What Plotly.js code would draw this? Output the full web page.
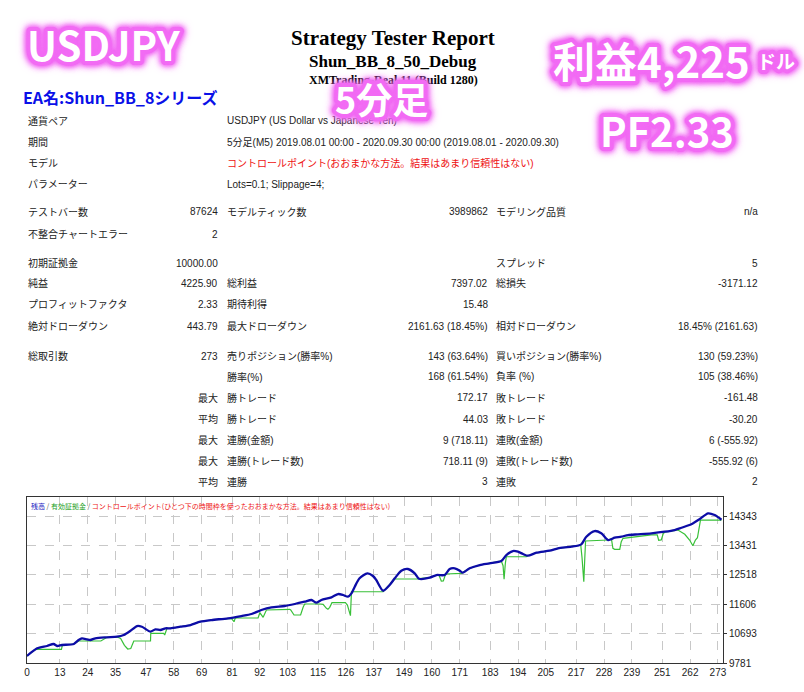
<!DOCTYPE html>
<html>
<head>
<meta charset="utf-8">
<script src="https://cdn.plot.ly/plotly-3.0.1.min.js"></script>
<style>
html,body{margin:0;padding:0;background:#fff;}
#chart{width:804px;height:692px;}
</style>
</head>
<body>
<div id="chart"></div>
<script>
// ---------------- DATA ----------------
const balanceX = [0,4.0,7.9,10.5,11.9,13.8,18.5,20.4,21.7,23.7,25.0,27.0,31.6,35.6,38.2,40.9,43.5,45.4,48.8,50.7,52.7,54.7,56.7,60.6,64.6,68.5,72.9,79.4,84.7,88.7,92.6,96.6,101.8,105.8,109.7,112.4,114.3,116.3,120.3,122.9,124.9,126.8,128.2,129.5,131.4,134.5,136.7,138.0,140.7,143.3,145.3,147.9,150.5,153.2,154.9,159.1,161.8,165.0,167.0,169.0,171.0,172.0,174.9,178.9,182.8,187.4,189.4,192.0,194.0,196.0,197.9,201.3,206.5,209.8,215.1,219.0,221.0,224.3,226.9,229.6,232.2,234.8,237.5,241.4,246.7,252.0,255.9,258.6,262.5,265.8,269.1,271.7,274.4];
const balanceY = [10000,10237,10309,10371,10309,10340,10371,10495,10547,10516,10495,10547,10578,10597,10650,10783,10929,10907,10752,10827,10805,10858,10858,10907,10960,11063,11115,11168,11239,11301,11426,11509,11550,11612,11683,11736,11652,11736,11820,11922,11891,11838,11944,12149,12409,12564,12481,12356,12024,12201,12409,12645,12698,12564,12397,12428,12512,12512,12698,12720,12645,12583,12720,12822,12875,12946,13132,13256,13235,13163,13111,13204,13266,13340,13390,13464,13700,13877,13806,13598,13669,13700,13753,13775,13806,13855,13908,13979,14085,14249,14426,14373,14226];

const equityX = [0,3.3,13.6,14.0,18.5,20.4,29.2,31.6,35.6,37.0,38.5,39.8,41.0,42.2,48.8,48.9,54.0,54.4,55.3,56.7,60.6,64.6,68.5,72.9,79.4,80.8,81.8,82.3,91.3,92.0,93.3,94.6,103.8,104.2,105.5,108.1,109.1,109.7,116.0,117.0,118.3,118.9,119.6,120.5,125.8,126.6,127.8,128.2,140.7,143.3,145.3,154.5,154.9,159.1,161.8,162.8,163.7,164.5,165.4,171.6,172.0,174.9,178.9,182.8,187.4,188.1,188.5,189.0,189.4,197.3,197.9,201.3,206.5,209.8,215.1,218.8,219.3,220.0,220.4,220.7,229.6,230.9,231.5,232.2,234.2,234.8,235.5,241.4,246.7,249.0,249.6,250.6,251.4,252.0,255.9,257.2,259.9,261.8,263.1,264.1,264.9,265.4,266.1,274.4];
const equityY = [10000,10206,10206,10340,10371,10464,10464,10578,10590,10540,10330,10215,10230,10464,10464,10703,10703,10650,10858,10858,10907,10960,11063,11115,11160,11156,11063,11177,11177,11342,11199,11426,11447,11430,11270,11270,11509,11612,11612,11600,11478,11447,11509,11652,11652,11581,11249,11993,11993,12201,12388,12388,12397,12428,12512,12500,12325,12330,12543,12564,12583,12720,12822,12875,12946,12800,12378,12875,13079,13079,13111,13204,13266,13340,13390,13440,13050,12304,13050,13567,13598,13640,13340,13309,13309,13545,13650,13720,13760,13760,13590,13600,13800,13840,13900,13908,13775,13598,13421,13598,13669,13961,14218,14218];

const xTickLabels = ['0','13','24','35','47','58','69','81','92','103','115','126','137','149','160','171','183','194','205','217','228','239','251','262','273'];
const yTickLabels = ['9781','10693','11606','12518','13431','14343'];

const reportTitle = 'Strategy Tester Report';
const reportEA = 'Shun_BB_8_50_Debug';
const reportServer = 'XMTrading-Real 11 (Build 1280)';
const eaNameLabel = 'EA名:Shun_BB_8シリーズ';

const infoLabels = ['通貨ペア','期間','モデル','パラメーター'];
const infoValues = ['USDJPY (US Dollar vs Japanese Yen)',
  '5分足(M5) 2019.08.01 00:00 - 2020.09.30 00:00 (2019.08.01 - 2020.09.30)',
  'コントロールポイント(おおまかな方法。結果はあまり信頼性はない)',
  'Lots=0.1; Slippage=4;'];

const statRows = [
  ['テストバー数','87624','モデルティック数','3989862','モデリング品質','n/a'],
  ['不整合チャートエラー','2','','','',''],
  ['初期証拠金','10000.00','','','スプレッド','5'],
  ['純益','4225.90','総利益','7397.02','総損失','-3171.12'],
  ['プロフィットファクタ','2.33','期待利得','15.48','',''],
  ['絶対ドローダウン','443.79','最大ドローダウン','2161.63 (18.45%)','相対ドローダウン','18.45% (2161.63)'],
  ['総取引数','273','売りポジション(勝率%)','143 (63.64%)','買いポジション(勝率%)','130 (59.23%)'],
  ['','','勝率(%)','168 (61.54%)','負率 (%)','105 (38.46%)'],
  ['','最大','勝トレード','172.17','敗トレード','-161.48'],
  ['','平均','勝トレード','44.03','敗トレード','-30.20'],
  ['','最大','連勝(金額)','9 (718.11)','連敗(金額)','6 (-555.92)'],
  ['','最大','連勝(トレード数)','718.11 (9)','連敗(トレード数)','-555.92 (6)'],
  ['','平均','連勝','3','連敗','2']
];

const legendNames = ['残高','有効証拠金','コントロールポイント(ひとつ下の時間枠を使ったおおまかな方法。結果はあまり信頼性はない)'];
const badgeTexts = ['USDJPY','5分足','利益4,225','ドル','PF2.33'];

// ---------------- LAYOUT HELPERS ----------------
const L = 27, R = 723, T = 497, B = 663;
const px = x => (x - L) / (R - L);
const py = y => (B - y) / (B - T);
const SANS = 'Liberation Sans, Noto Sans CJK JP, sans-serif';
const SERIF = 'Liberation Serif, Times New Roman, serif';
const annotations = [];
function txt(text, x, y, anchor, font) {
  annotations.push({text: text, x: px(x), y: py(y), xref: 'paper', yref: 'paper',
    xanchor: anchor, yanchor: 'middle', showarrow: false, align: anchor === 'right' ? 'right' : 'left',
    borderpad: 0, font: font});
}

// header
txt(reportTitle, 393, 38, 'center', {family: SERIF, size: 21, color: '#000', weight: 700});
txt(reportEA, 393, 61, 'center', {family: SERIF, size: 17, color: '#000', weight: 700});
txt(reportServer, 394, 80, 'center', {family: SERIF, size: 12, color: '#000', weight: 700});
txt(eaNameLabel, 22, 97, 'left', {family: 'Noto Sans CJK JP, sans-serif', size: 16, color: '#0a10e8', weight: 700});

// info rows
const infoY = [121, 142, 163, 184];
const baseFont = {family: SANS, size: 10, color: '#222'};
infoLabels.forEach((t, i) => txt(t, 27, infoY[i], 'left', baseFont));
infoValues.forEach((t, i) => txt(t, 226, infoY[i], 'left',
  i === 2 ? {family: SANS, size: 10, color: '#ee1111'} : baseFont));

// stats rows
const rowY = [211.7, 234, 263.3, 283.3, 304.3, 326, 356, 376.7, 397.7, 419, 440, 461, 481.7];
const colX = [27, 219, 226, 489, 495, 759];
const colAnchor = ['left', 'right', 'left', 'right', 'left', 'right'];
statRows.forEach((row, i) => row.forEach((t, j) => {
  if (t) txt(t, colX[j], rowY[i], colAnchor[j], baseFont);
}));

// in-chart legend
annotations.push({
  text: '<span style="color:#1818c0">' + legendNames[0] + '</span><span style="color:#555"> / </span>' +
        '<span style="color:#1ca01c">' + legendNames[1] + '</span><span style="color:#555"> / </span>' +
        '<span style="color:#ee1515">' + legendNames[2] + '</span>',
  x: px(30), y: py(506), xref: 'paper', yref: 'paper', xanchor: 'left', yanchor: 'middle',
  showarrow: false, borderpad: 0, font: {family: 'Noto Sans CJK JP, sans-serif', size: 7}
});

// glowing badges
const PINK = '#f26cf4';
const glow = {family: 'Noto Sans CJK JP, sans-serif', color: '#ffffff', weight: 700};
const badgePos = [[104, 44, 'center', 40], [381, 98, 'center', 36], [651, 59, 'center', 42], [756, 60, 'left', 19], [667, 130, 'center', 40]];
badgeTexts.forEach((t, i) => {
  const p = badgePos[i];
  txt(t, p[0], p[1], p[2], Object.assign({}, glow, {size: p[3]}));
});

// ---------------- PLOT ----------------
const traces = [
  {x: equityX, y: equityY, type: 'scatter', mode: 'lines', line: {color: '#38c038', width: 1.2}, hoverinfo: 'skip'},
  {x: balanceX, y: balanceY, type: 'scatter', mode: 'lines', line: {color: '#0c0ca6', width: 2.3, shape: 'spline', smoothing: 0.7}, hoverinfo: 'skip'}
];

const layout = {
  width: 804, height: 692,
  margin: {l: L, r: 804 - R, t: T, b: 692 - B, pad: 0},
  paper_bgcolor: '#ffffff', plot_bgcolor: '#ffffff',
  showlegend: false,
  xaxis: {
    range: [0, 275], tickmode: 'array', tickvals: xTickLabels.map(Number), ticktext: xTickLabels,
    showgrid: true, gridcolor: '#c8c8c8', griddash: 'dash', gridwidth: 1,
    showline: true, linecolor: '#333', linewidth: 1, mirror: true,
    ticks: '', zeroline: false,
    tickfont: {family: SANS, size: 10, color: '#222'}
  },
  yaxis: {
    range: [9781, 14933], side: 'right', tickmode: 'array', tickvals: yTickLabels.map(Number), ticktext: yTickLabels,
    showgrid: true, gridcolor: '#c8c8c8', griddash: 'dash', gridwidth: 1,
    showline: true, linecolor: '#333', linewidth: 1, mirror: true,
    ticks: 'outside', ticklen: 3, tickcolor: '#333', zeroline: false,
    tickfont: {family: SANS, size: 10, color: '#222'}
  },
  annotations: annotations
};

Plotly.newPlot('chart', traces, layout, {staticPlot: true, displayModeBar: false}).then(gd => {
  gd.querySelectorAll('text.annotation-text').forEach(el => {
    if (badgeTexts.indexOf(el.textContent) >= 0) {
      el.style.stroke = PINK;
      el.style.strokeWidth = '8px';
      el.style.strokeLinejoin = 'round';
      el.style.paintOrder = 'stroke fill';
      el.style.textShadow = `0 0 4px ${PINK}, 0 0 7px ${PINK}, 0 0 10px rgba(242,108,244,0.8)`;
    }
  });
});
</script>
</body>
</html>
